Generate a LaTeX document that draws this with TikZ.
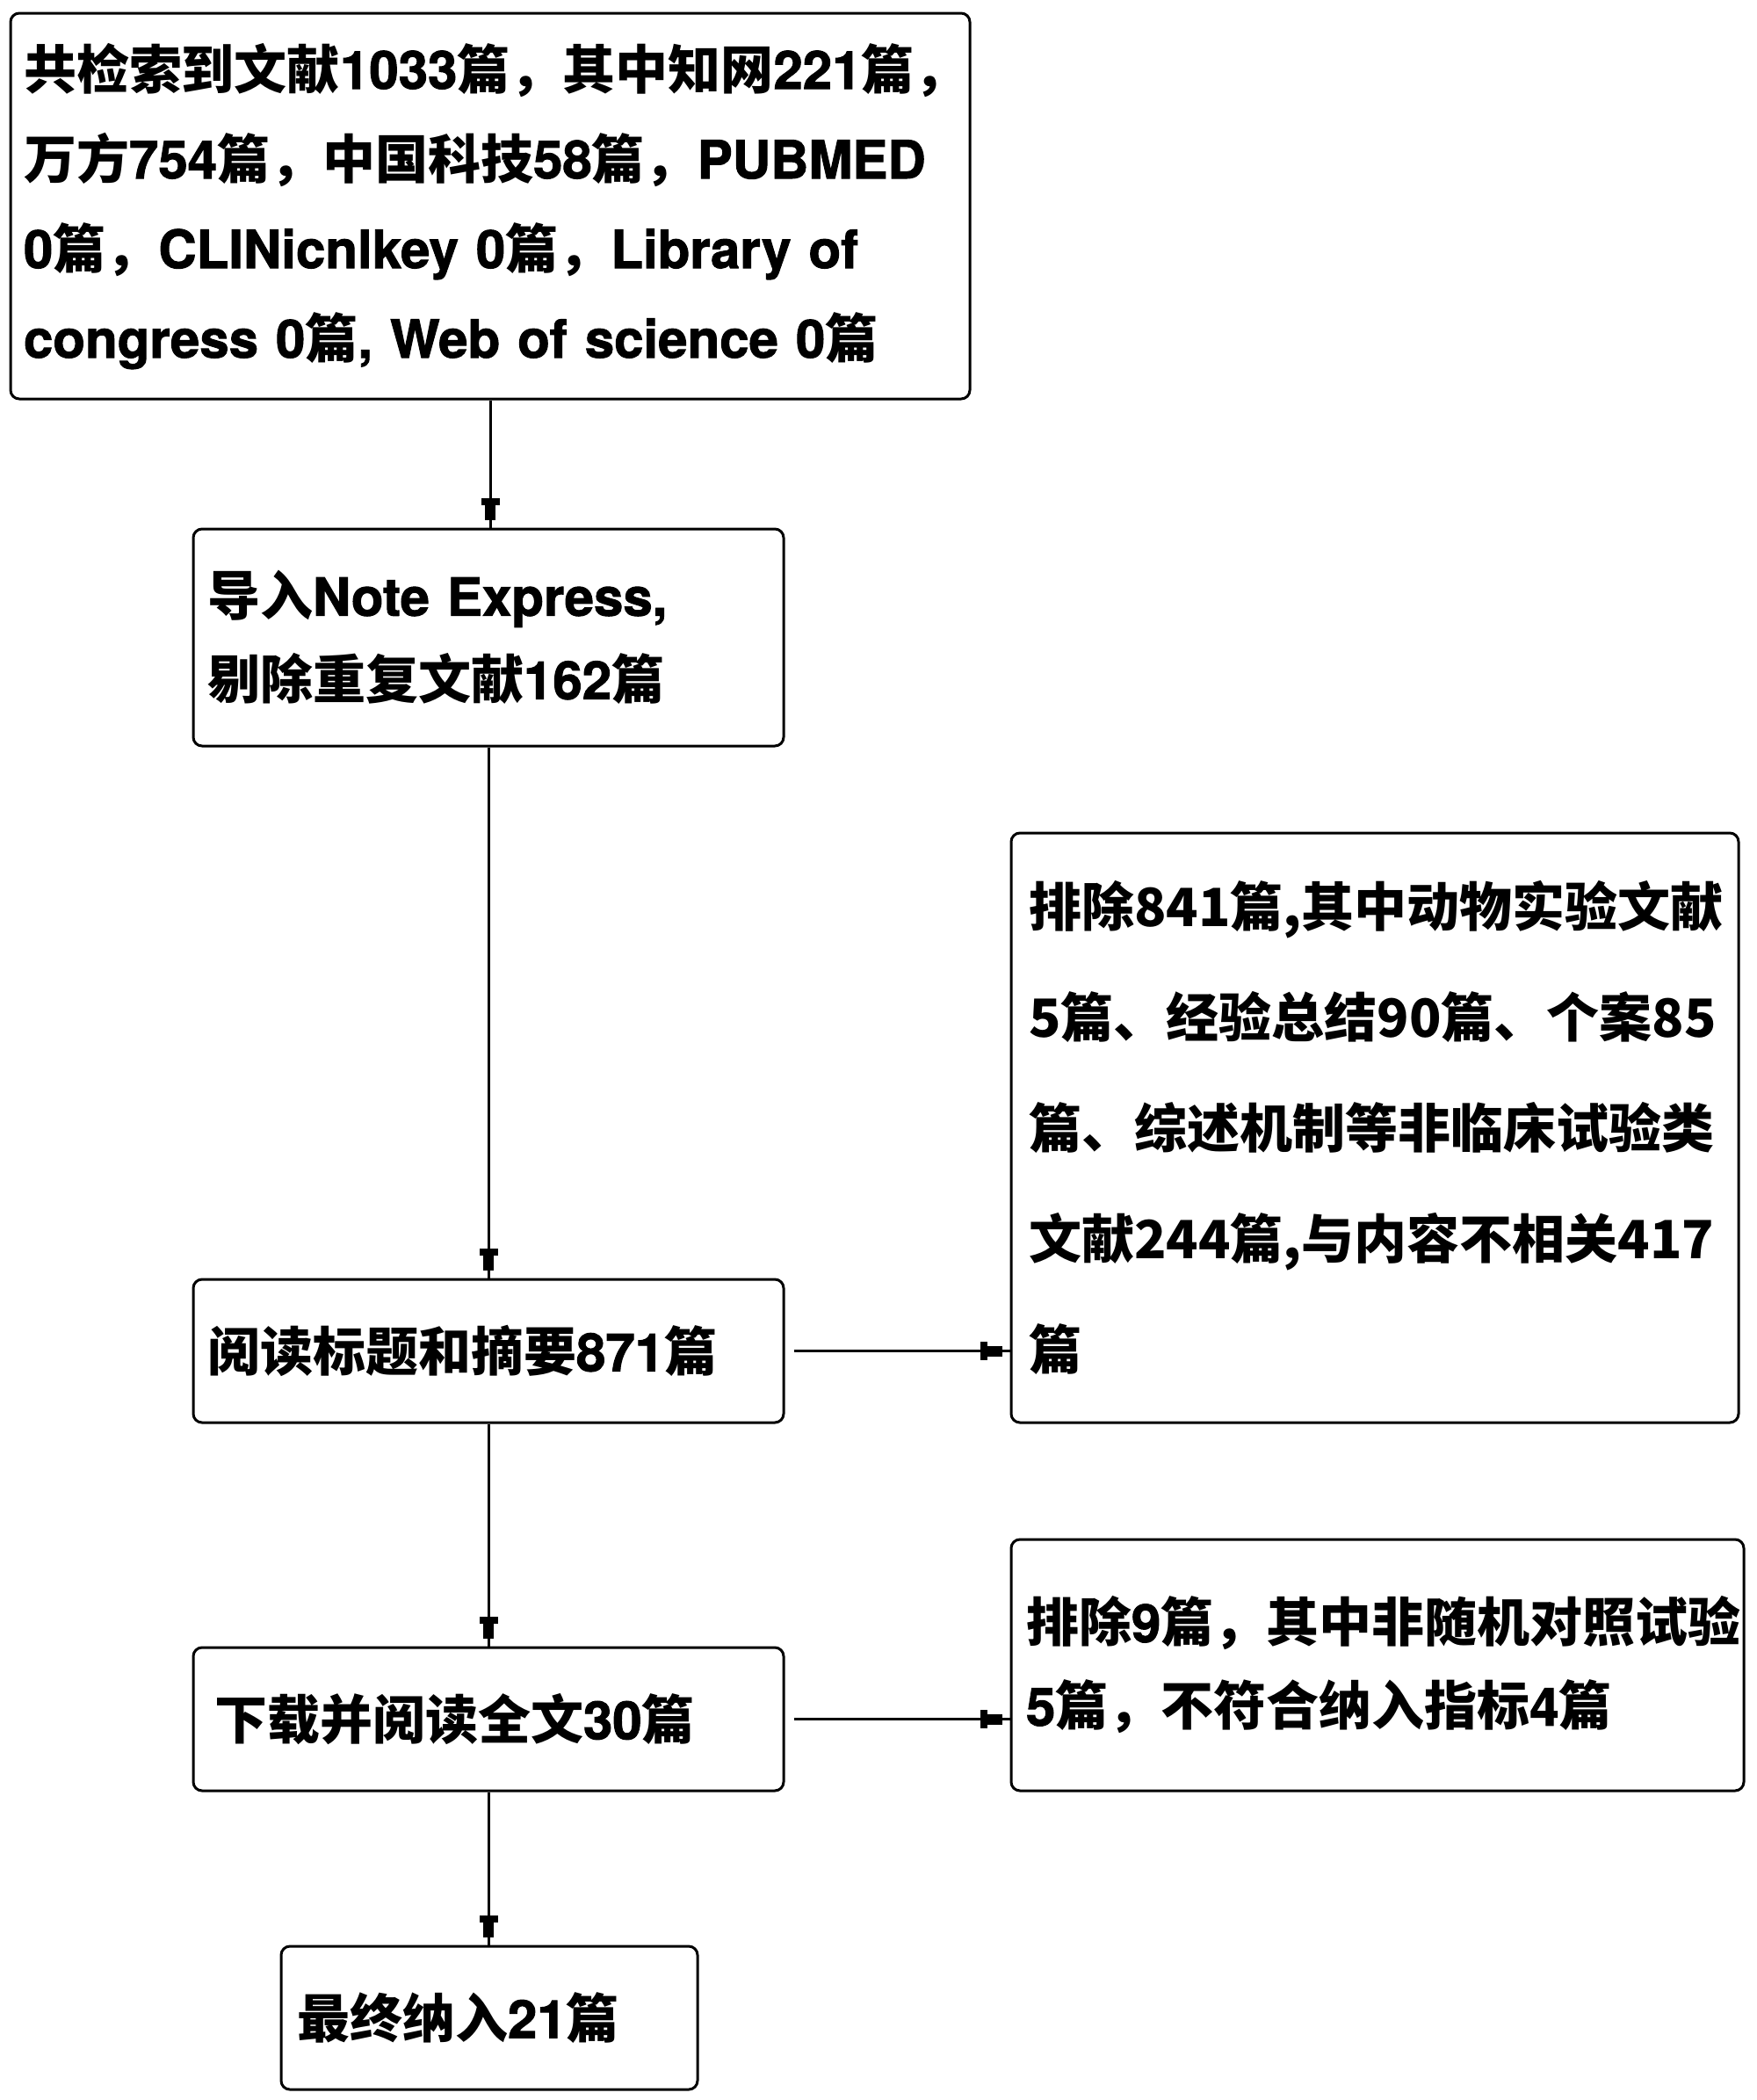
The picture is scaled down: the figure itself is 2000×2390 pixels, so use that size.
\documentclass[tikz,border=0pt]{standalone}
\usepackage{fontspec}
\setmainfont{Noto Sans CJK SC}
\newfontfamily\latf{texgyreheros-bold.otf}[FakeBold=1.6]
\newcommand\lf[1]{{\latf #1}}
\usetikzlibrary{arrows.meta}
\tikzset{
  box/.style={draw, line width=1.5pt, rounded corners=5pt, align=left, inner ysep=0pt},
  conn/.style={line width=1.5pt,
    -{Rectangle[length=4pt,width=10.5pt,sep=0pt,line width=0pt]Rectangle[length=8.5pt,width=6pt,sep=0pt,line width=0pt]Rectangle[length=4.5pt,width=1.5pt,sep=0pt,line width=0pt]}},
  f30/.style={font=\bfseries\fontsize{30pt}{51pt}\selectfont},
}
\begin{document}
\begin{tikzpicture}[x=0.5pt,y=-0.5pt]
\useasboundingbox (0,0) rectangle (2000,2390);
\node[box, f30, minimum width=546pt, minimum height=219.5pt, text width=531pt, inner xsep=7.5pt] (A) at (558,234.5)
  {共检索到文献\lf{1033}篇，其中知网\lf{221}篇，\\
   万方\lf{754}篇，中国科技\lf{58}篇，\lf{PUBMED}\\
   \lf{0}篇，\lf{CLINicnlkey 0}篇，\lf{Library of}\\
   \lf{congress 0}篇\lf{, Web of science 0}篇};
\node[box, font=\bfseries\fontsize{30pt}{47.5pt}\selectfont, minimum width=336pt, minimum height=123.5pt, text width=320pt, inner xsep=8pt] (B) at (556,725.5)
  {导入\lf{Note Express,}\\剔除重复文献\lf{162}篇};
\node[box, f30, minimum width=336pt, minimum height=81.5pt, text width=320pt, inner xsep=8pt] (C) at (556,1537.5)
  {阅读标题和摘要\lf{871}篇};
\node[box, f30, minimum width=336pt, minimum height=81.5pt, text width=312pt, inner xsep=12pt] (D) at (556,1956.5)
  {下载并阅读全文\lf{30}篇};
\node[box, f30, minimum width=237pt, minimum height=81.5pt, text width=219pt, inner xsep=9pt] (E) at (557,2296.5)
  {最终纳入\lf{21}篇};
\node[box, font=\bfseries\fontsize{30pt}{63pt}\selectfont, minimum width=414pt, minimum height=335.5pt, text width=394pt, inner xsep=10pt] (R1) at (1565,1283.5)
  {排除841篇,其中动物实验文献\\5篇、经验总结90篇、个案85\\篇、综述机制等非临床试验类\\文献244篇,与内容不相关417\\篇};
\node[box, font=\bfseries\fontsize{30pt}{47.5pt}\selectfont, minimum width=417pt, minimum height=143pt, text width=400pt, inner xsep=8.5pt] (R2) at (1568,1895)
  {排除\lf{9}篇，其中非随机对照试验\\\lf{5}篇，不符合纳入指标\lf{4}篇};
\draw[conn] (A.south) -- (A.south |- B.north);
\draw[conn] (B.south) -- (B.south |- C.north);
\draw[conn] (C.south) -- (C.south |- D.north);
\draw[conn] (D.south) -- (D.south |- E.north);
\draw[conn, shorten <=5pt] (C.east) -- (C.east -| R1.west);
\draw[conn, shorten <=5pt] (D.east) -- (D.east -| R2.west);
\end{tikzpicture}
\end{document}
